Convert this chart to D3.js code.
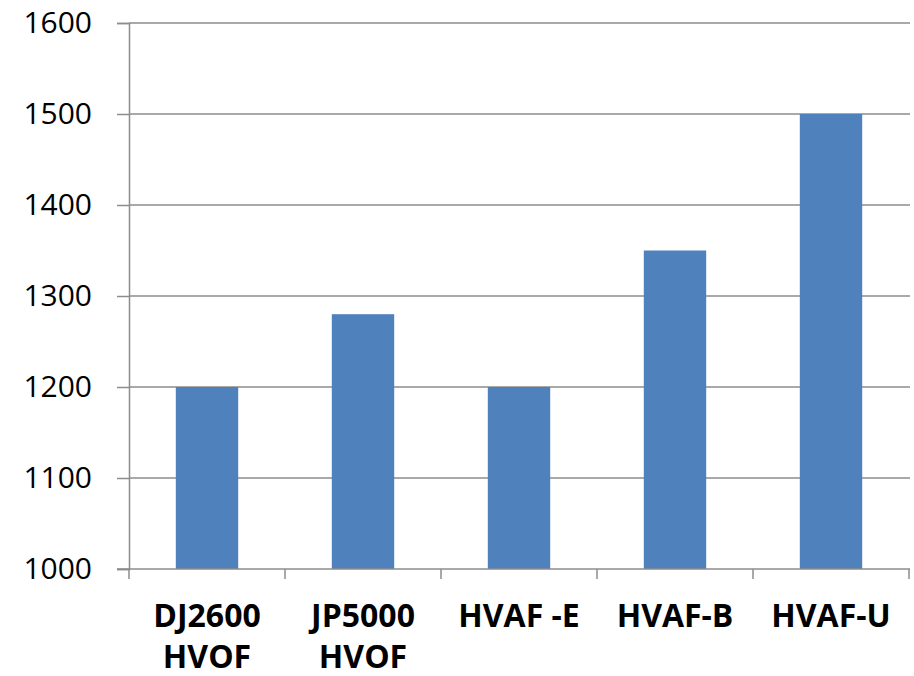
<!DOCTYPE html>
<html>
<head>
<meta charset="utf-8">
<script src="https://cdn.jsdelivr.net/npm/d3@7"></script>
<style>
  html, body { margin: 0; padding: 0; background: #fff; }
  svg { display: block; }
</style>
</head>
<body>
<svg id="chart" width="914" height="676"></svg>
<script>
const categories = [["DJ2600", "HVOF"], ["JP5000", "HVOF"], ["HVAF -E"], ["HVAF-B"], ["HVAF-U"]];
const values = [1200, 1280, 1200, 1350, 1500];
const yTicks = [1000, 1100, 1200, 1300, 1400, 1500, 1600];

(function () {
const svg = d3.select("#chart");
const mLeft = 129, mRight = 909, mTop = 23, mBottom = 569;
const font = "'Open Sans', 'Noto Sans', sans-serif";
const gray = "#8c8c8c";

const keys = categories.map(c => c.join(" "));
const x = d3.scaleBand().domain(keys).range([mLeft, mRight]).paddingInner(0.6).paddingOuter(0.3);
const y = d3.scaleLinear().domain([1000, 1600]).range([mBottom, mTop]);

// gridlines
svg.append("g").selectAll("line")
  .data(yTicks.filter(t => t > 1000))
  .join("line")
  .attr("x1", mLeft).attr("x2", mRight + 1)
  .attr("y1", d => y(d)).attr("y2", d => y(d))
  .attr("stroke", gray).attr("stroke-width", 1.5);

// bars
svg.append("g").selectAll("rect")
  .data(values)
  .join("rect")
  .attr("x", (d, i) => x(keys[i]))
  .attr("width", x.bandwidth())
  .attr("y", d => y(d))
  .attr("height", d => y(1000) - y(d))
  .attr("fill", "#4f81bd");

// y axis
const yAxis = svg.append("g").attr("transform", `translate(${mLeft},0)`)
  .call(d3.axisLeft(y).tickValues(yTicks).tickSize(12).tickPadding(25).tickFormat(d3.format("d")));
yAxis.select(".domain").attr("stroke", gray).attr("stroke-width", 1.5);
yAxis.selectAll(".tick line").attr("stroke", gray).attr("stroke-width", 1.5);
yAxis.selectAll(".tick text").attr("fill", "#000").style("font-family", font).style("font-size", "30px");

// x axis baseline and ticks at category boundaries
const boundaries = d3.range(keys.length + 1).map(i => mLeft + i * x.step());
svg.append("line")
  .attr("x1", mLeft - 12).attr("x2", mRight + 1)
  .attr("y1", mBottom).attr("y2", mBottom)
  .attr("stroke", gray).attr("stroke-width", 1.5);
svg.append("g").selectAll("line")
  .data(boundaries)
  .join("line")
  .attr("x1", d => d).attr("x2", d => d)
  .attr("y1", mBottom).attr("y2", mBottom + 10)
  .attr("stroke", gray).attr("stroke-width", 1.5);

// x labels
const lbl = svg.append("g").selectAll("text")
  .data(categories)
  .join("text")
  .attr("text-anchor", "middle")
  .attr("x", (d, i) => x(keys[i]) + x.bandwidth() / 2)
  .attr("y", 627)
  .style("font-family", font).style("font-size", "32px").style("font-weight", "bold")
  .attr("fill", "#000");
lbl.selectAll("tspan")
  .data(d => d)
  .join("tspan")
  .attr("x", function () { return this.parentNode.getAttribute("x"); })
  .attr("dy", (d, i) => i === 0 ? 0 : 41)
  .text(d => d);
})();
</script>
</body>
</html>
